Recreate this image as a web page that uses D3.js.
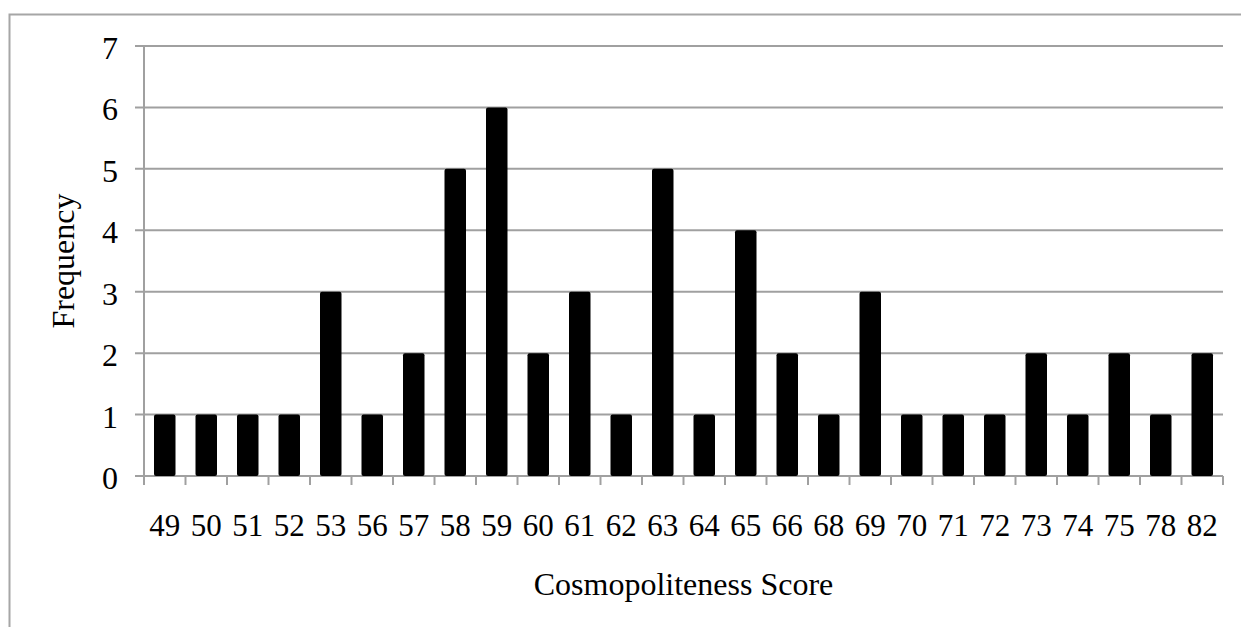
<!DOCTYPE html>
<html>
<head>
<meta charset="utf-8">
<script src="https://cdn.jsdelivr.net/npm/d3@7"></script>
<style>
  html, body { margin: 0; padding: 0; background: #fff; }
  svg { display: block; }
  text { font-family: "Liberation Serif", "Times New Roman", serif; fill: #000; }
</style>
</head>
<body>
<svg id="chart" width="1241" height="627"></svg>
<script>
const categories = ["49","50","51","52","53","56","57","58","59","60","61","62","63","64","65","66","68","69","70","71","72","73","74","75","78","82"];
const frequencies = [1,1,1,1,3,1,2,5,6,2,3,1,5,1,4,2,1,3,1,1,1,2,1,2,1,2];
const yTicks = [0,1,2,3,4,5,6,7];
const xTitle = "Cosmopoliteness Score";
const yTitle = "Frequency";

(function () {
const svg = d3.select("#chart");
const pLeft = 144, pRight = 1223, pTop = 46, pBottom = 476;
const gridColor = "#a0a0a0";

svg.append("rect")
  .attr("x", 9.5).attr("y", 14.5)
  .attr("width", 1300).attr("height", 700)
  .attr("fill", "none").attr("stroke", "#a6a6a6").attr("stroke-width", 2);

const xEdge = d3.scaleBand().domain(categories).range([pLeft, pRight]).padding(0);
const y = d3.scaleLinear().domain([0, 7]).range([pBottom, pTop]);

svg.append("g").selectAll("line").data(yTicks).join("line")
  .attr("x1", pLeft - 9).attr("x2", pRight)
  .attr("y1", d => y(d)).attr("y2", d => y(d))
  .attr("stroke", gridColor).attr("stroke-width", 2);

svg.append("line")
  .attr("x1", pLeft).attr("x2", pLeft).attr("y1", pTop).attr("y2", pBottom)
  .attr("stroke", gridColor).attr("stroke-width", 2);

const edges = categories.map(c => xEdge(c)).concat([pRight]);
svg.append("g").selectAll("line").data(edges).join("line")
  .attr("x1", d => d).attr("x2", d => d)
  .attr("y1", pBottom).attr("y2", pBottom + 9)
  .attr("stroke", gridColor).attr("stroke-width", 2);

svg.append("g").selectAll("rect").data(frequencies).join("rect")
  .attr("x", (d, i) => xEdge(categories[i]) + xEdge.bandwidth() / 2 - 10.75)
  .attr("width", 21.5)
  .attr("y", d => y(d))
  .attr("height", d => pBottom - y(d))
  .attr("rx", 2)
  .attr("fill", "#000");

svg.append("g").selectAll("text").data(yTicks).join("text")
  .attr("x", 118).attr("y", d => y(d) + 13)
  .attr("text-anchor", "end")
  .style("font-size", "32px")
  .text(d => d);

svg.append("g").selectAll("text").data(categories).join("text")
  .attr("x", d => xEdge(d) + xEdge.bandwidth() / 2)
  .attr("y", 536)
  .attr("text-anchor", "middle")
  .style("font-size", "31px")
  .text(d => d);

svg.append("text")
  .attr("x", (pLeft + pRight) / 2).attr("y", 595)
  .attr("text-anchor", "middle")
  .style("font-size", "32px")
  .text(xTitle);

svg.append("text")
  .attr("transform", `translate(74, ${(pTop + pBottom) / 2}) rotate(-90)`)
  .attr("text-anchor", "middle")
  .style("font-size", "32px")
  .text(yTitle);
})();
</script>
</body>
</html>
